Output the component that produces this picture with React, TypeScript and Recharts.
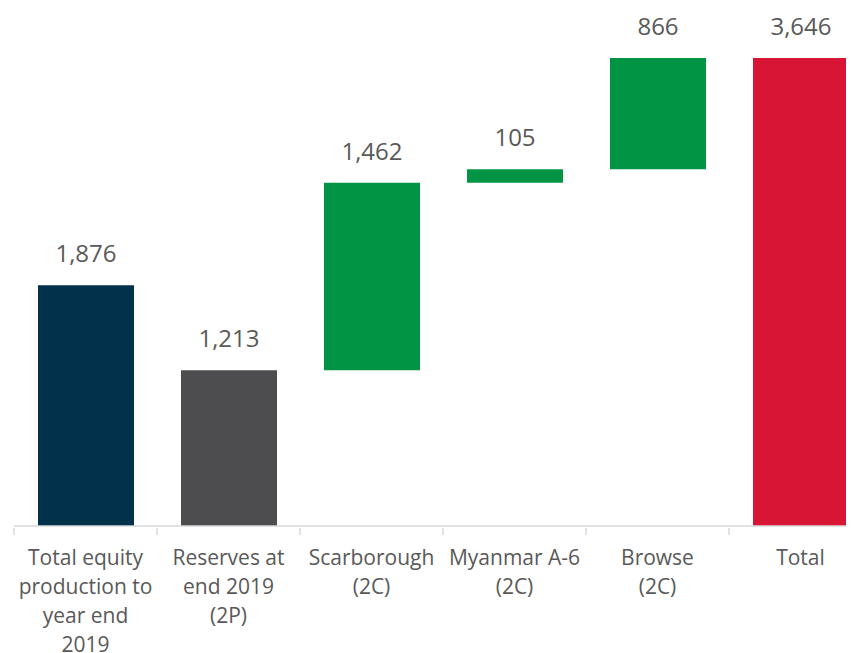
import React from "react";
import { BarChart, Bar, XAxis, YAxis, Cell, LabelList } from "recharts";

const categories = [
  "Total equity\nproduction to\nyear end\n2019",
  "Reserves at\nend 2019\n(2P)",
  "Scarborough\n(2C)",
  "Myanmar A-6\n(2C)",
  "Browse\n(2C)",
  "Total",
];
const values = [1876, 1213, 1462, 105, 866, 3646];
// base each bar floats on (transparent part of the stack)
const bases = [0, 0, 1213, 2675, 2780, 0];
const colors = ["#02324b", "#4d4d4f", "#009444", "#009444", "#009444", "#d91535"];

const data = categories.map((name, i) => ({
  name,
  base: bases[i],
  value: values[i],
}));

const FONT = "'Open Sans', sans-serif";
const TEXT = "#595959";
const AXIS = "#d9d9d9";
const BAND = 143;

// category label plus a tick mark on the left boundary of its band
const CategoryTick = (props: any) => {
  const { x, y, payload } = props;
  const lines = String(payload.value).split("\n");
  const left = x - BAND / 2;
  return (
    <g>
      <line x1={left} x2={left} y1={y - 8} y2={y - 1} stroke={AXIS} strokeWidth={1.5} />
      <text
        x={x}
        y={y + 29}
        textAnchor="middle"
        fill={TEXT}
        fontSize={21}
        fontFamily={FONT}
      >
        {lines.map((line, i) => (
          <tspan key={i} x={x} dy={i === 0 ? 0 : 29}>
            {line}
          </tspan>
        ))}
      </text>
    </g>
  );
};

const App: React.FC = () => {
  return (
    <div style={{ width: 846, height: 645, overflow: "hidden" }}>
      <BarChart
        width={864}
        height={645}
        data={data}
        margin={{ top: 50, right: 0, bottom: 0, left: 6 }}
        barSize={96}
      >
        <XAxis
          dataKey="name"
          interval={0}
          height={127}
          axisLine={{ stroke: AXIS, strokeWidth: 1.5 }}
          tickLine={false}
          tickSize={8}
          tick={<CategoryTick />}
          scale="band"
        />
        <YAxis hide domain={[0, 3646]} />
        <Bar dataKey="base" stackId="w" fill="transparent" isAnimationActive={false} />
        <Bar dataKey="value" stackId="w" isAnimationActive={false}>
          {data.map((_, i) => (
            <Cell key={i} fill={colors[i]} />
          ))}
          <LabelList
            dataKey="value"
            position="top"
            offset={23}
            fill={TEXT}
            fontSize={24}
            fontFamily={FONT}
            formatter={(v: any) => Number(v).toLocaleString("en-US")}
          />
        </Bar>
      </BarChart>
    </div>
  );
};

export default App;
